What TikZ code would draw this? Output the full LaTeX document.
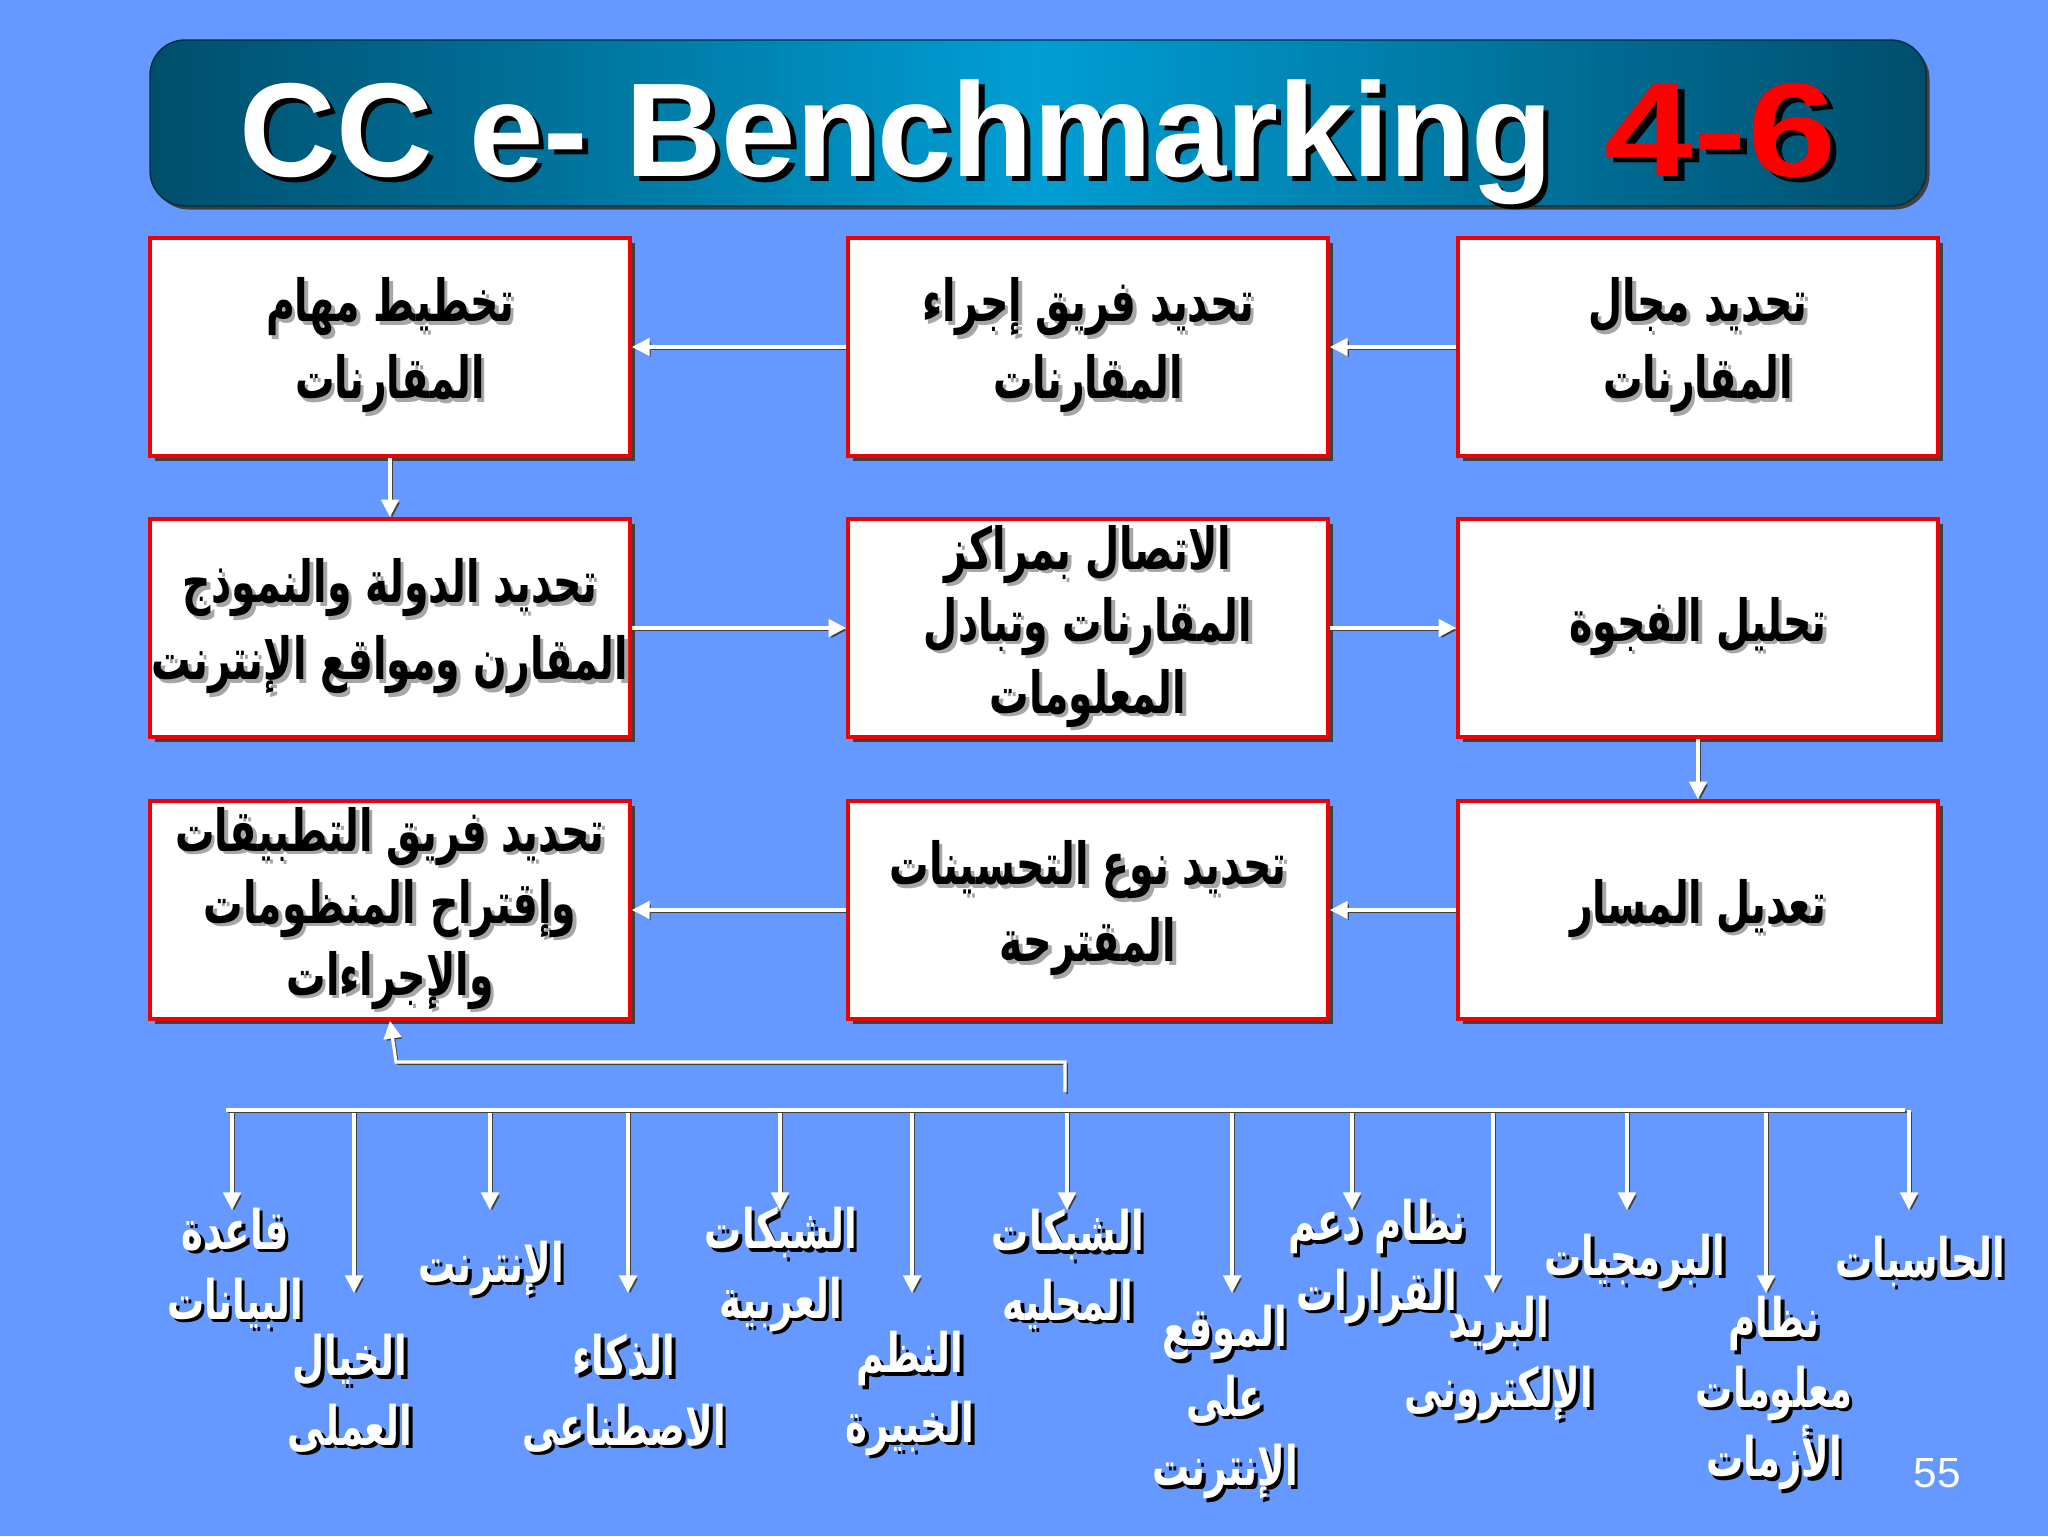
\documentclass[tikz,border=0pt]{standalone}
\usepackage{fontspec}
\usepackage{xcolor}
\usetikzlibrary{arrows.meta,shadows}
\setmainfont{Liberation Sans}
\newfontfamily\arabicfont[Script=Arabic, FakeStretch=0.68]{DejaVu Sans}
\TeXXeTstate=1

\definecolor{slidebg}{RGB}{102,153,255}
\definecolor{barin}{RGB}{0,158,212}
\definecolor{barout}{RGB}{0,78,108}
\definecolor{boxred}{RGB}{240,0,0}
\definecolor{shade}{RGB}{64,64,64}

% text with an offset shadow
\newcommand{\shl}[4][1pt]{\leavevmode\rlap{\kern#1\raisebox{-#1}{\color{#3}#4}}{\color{#2}#4}}
\newcommand{\bx}[1]{\shl{black}{gray!70}{\beginR#1\endR}}
\newcommand{\lb}[1]{\shl{white}{black}{\beginR#1\endR}}

\tikzset{
  titlebar/.style={rounded corners=3.5mm, draw=barout!60!black, left color=barout, right color=barout, middle color=barin,
    minimum width=177.6mm, minimum height=16.6mm, drop shadow={shadow xshift=1pt, shadow yshift=-1pt, fill=shade, opacity=1}},
  ttl/.style={font=\bfseries\fontsize{38}{40}\selectfont, inner sep=0pt},
  box/.style={draw=boxred, line width=1.1pt, fill=white, minimum width=48mm, minimum height=21.8mm,
    inner xsep=0pt, inner ysep=0pt, align=center, font=\arabicfont\bfseries\fontsize{16.5}{22}\selectfont,
    drop shadow={shadow xshift=1.5pt, shadow yshift=-1.5pt, fill=shade, opacity=1}},
  three/.style={font=\arabicfont\bfseries\fontsize{16.5}{20.5}\selectfont},
  lbl/.style={align=center, font=\arabicfont\bfseries\fontsize{15.5}{19.8}\selectfont, inner sep=0pt},
  wire/.style={draw=white, line width=0.9pt, preaction={draw=shade, transform canvas={shift={(0.6pt,-0.6pt)}}}},
  arr/.style={wire, -{Triangle[length=5pt,width=5pt]}}
}

\begin{document}
\begin{tikzpicture}[x=0.1mm, y=-0.1mm]
  \fill[slidebg] (0,0) rectangle (2048,1536);
  \useasboundingbox (0,0) rectangle (2048,1536);

  % title
  \node[titlebar] (bar) at (1038,123) {};
  \node[ttl, anchor=base west] (ttl) at (239,176) {\shl[1.5pt]{white}{black}{CC e- Benchmarking}};
  \node[ttl, anchor=base west] (num) at (1604,176) {\scalebox{1.2}[1]{\shl[1.5pt]{red}{black}{4-6}}};

  % boxes
  \node[box] (b11) at (390,347)  {\bx{تخطيط مهام}\\\bx{المقارنات}};
  \node[box] (b12) at (1088,347) {\bx{تحديد فريق إجراء}\\\bx{المقارنات}};
  \node[box] (b13) at (1698,347) {\bx{تحديد مجال}\\\bx{المقارنات}};
  \node[box] (b21) at (390,628)  {\bx{تحديد الدولة والنموذج}\\\bx{المقارن ومواقع الإنترنت}};
  \node[box, three] (b22) at (1088,628) {\bx{الاتصال بمراكز}\\\bx{المقارنات وتبادل}\\\bx{المعلومات}};
  \node[box] (b23) at (1698,628) {\bx{تحليل الفجوة}};
  \node[box, three] (b31) at (390,910)  {\bx{تحديد فريق التطبيقات}\\\bx{وإقتراح المنظومات}\\\bx{والإجراءات}};
  \node[box] (b32) at (1088,910) {\bx{تحديد نوع التحسينات}\\\bx{المقترحة}};
  \node[box] (b33) at (1698,910) {\bx{تعديل المسار}};

  \draw[arr] (b13) -- (b12);
  \draw[arr] (b12) -- (b11);
  \draw[arr] (b11) -- (b21);
  \draw[arr] (b21) -- (b22);
  \draw[arr] (b22) -- (b23);
  \draw[arr] (b23) -- (b33);
  \draw[arr] (b33) -- (b32);
  \draw[arr] (b32) -- (b31);

  % tools
  \foreach \n/\x/\y/\t in {
      1/235/1270/{\lb{قاعدة}\\\lb{البيانات}},
      2/350/1395/{\lb{الخيال}\\\lb{العملى}},
      3/491/1270/{\lb{الإنترنت}},
      4/624/1395/{\lb{الذكاء}\\\lb{الاصطناعى}},
      5/781/1271/{\lb{الشبكات}\\\lb{العربية}},
      6/910/1395/{\lb{النظم}\\\lb{الخبيرة}},
      7/1068/1271/{\lb{الشبكات}\\\lb{المحليه}},
      8/1225/1404/{\lb{الموقع}\\\lb{على}\\\lb{الإنترنت}},
      9/1377/1263/{\lb{نظام دعم}\\\lb{القرارات}},
      10/1499/1360/{\lb{البريد}\\\lb{الإلكترونى}},
      11/1635/1263/{\lb{البرمجيات}},
      12/1774/1395/{\lb{نظام}\\\lb{معلومات}\\\lb{الأزمات}},
      13/1920/1263/{\lb{الحاسبات}}}
    \node[lbl] (l\n) at (\x,\y) {\t};

  \foreach \n/\x/\y in {1/232/1210, 2/354/1293, 3/490/1210, 4/628/1293, 5/780/1210,
      6/912/1293, 7/1067/1210, 8/1232/1293, 9/1352/1210, 10/1493/1293,
      11/1627/1210, 12/1766/1293, 13/1909/1210} {
    \coordinate (s\n) at (\x,1110);
    \coordinate (t\n) at (\x,\y);
    \draw[arr] (s\n) -- (t\n);
  }
  \coordinate (busL) at (226,1110);
  \coordinate (busR) at (1905,1110);
  \draw[wire] (busL) -- (busR);

  \coordinate (hub) at (1065,1092);
  \draw[arr] (hub) -- (1065,1062) -- (396,1062) -- (b31.south);

  \node[text=white, font=\fontsize{12}{14}\selectfont] (pg) at (1937,1473) {55};
\end{tikzpicture}
\end{document}
